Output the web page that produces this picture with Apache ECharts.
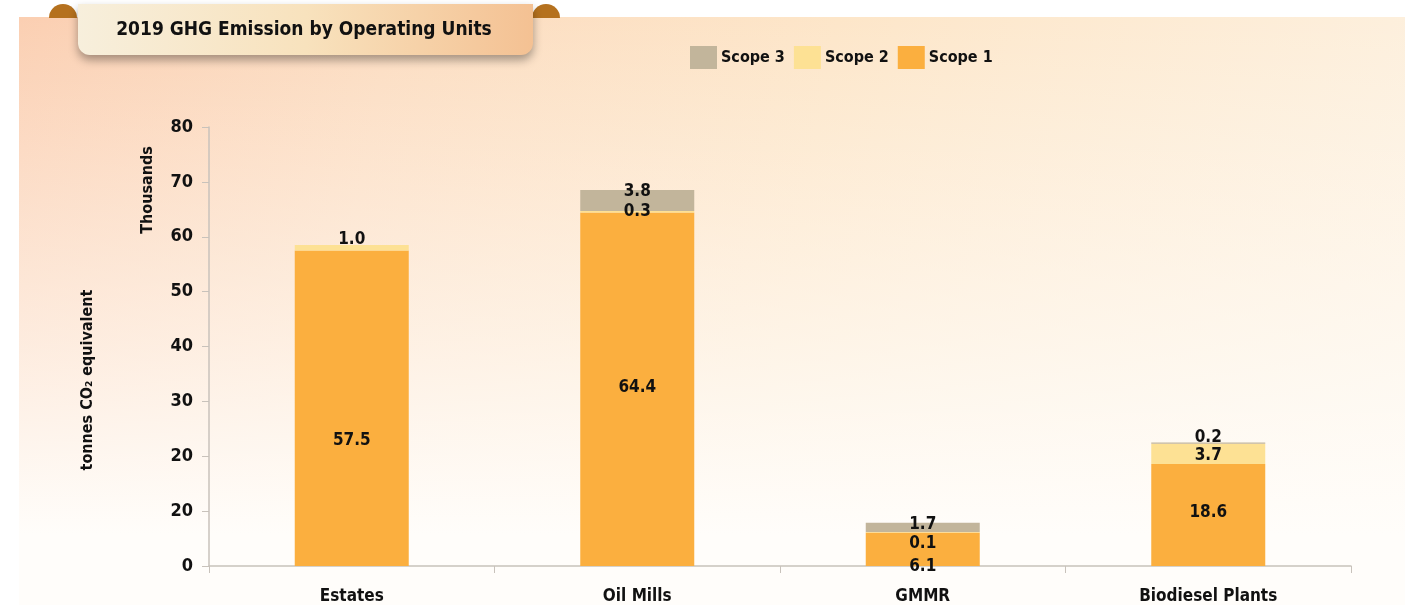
<!DOCTYPE html>
<html><head><meta charset="utf-8">
<script src="https://cdn.jsdelivr.net/npm/echarts@6/dist/echarts.min.js"></script>
<style>
html,body{margin:0;padding:0;width:1405px;height:605px;background:#fff;overflow:hidden}
#bg{position:absolute;left:19px;top:17px;right:0;bottom:0;
background:linear-gradient(to bottom, rgba(255,255,255,0) 0%, rgba(255,253,250,0.6) 55%, #fffdfa 88%),
linear-gradient(100deg, #fbcfb2 0%, #fcdcc0 25%, #fde6c9 55%, #fdf1e0 100%);}
#chart{position:absolute;left:0;top:0;width:1405px;height:605px}
</style></head>
<body><div id="bg"></div><div id="chart"></div>
<script>
const categories = ['Estates', 'Oil Mills', 'GMMR', 'Biodiesel Plants'];
const scope1 = [57.5, 64.4, 6.1, 18.6];
const scope2 = [1.0, 0.3, 0.1, 3.7];
const scope3 = [0, 3.8, 1.7, 0.2];
const yTickLabels = ['0', '20', '20', '30', '40', '50', '60', '70', '80'];

const FONT = "'DejaVu Sans Condensed', 'Liberation Sans Narrow', 'Open Sans', sans-serif";
const offs1 = [[0,32],[0,-2],[0,17],[0,-2]];
const offs2 = [[0,-8],[0,0],[0,11],[0,2]];
const offs3 = [[0,0],[0,-9],[0,-3],[0,-6]];

function mk(vals, offs){
  return vals.map((v,i)=>({value:v, label:{show: v>0, offset: offs[i]}}));
}
const lbl = {show:true, position:'inside', color:'#111', fontWeight:'bold', fontSize:17, fontFamily:FONT,
  formatter: p => p.value.toFixed(1)};

const chart = echarts.init(document.getElementById('chart'));
chart.setOption({
  backgroundColor:'transparent',
  animation:false,
  grid:{left:209, right:54, top:127, bottom:38},
  legend:{left:685, top:41, itemWidth:27, itemHeight:23, itemGap:9, icon:'rect',
    data:['Scope 3','Scope 2','Scope 1'],
    textStyle:{color:'#111', fontWeight:'bold', fontSize:16, fontFamily:FONT, padding:[0,0,0,-1]}},
  xAxis:{type:'category', data:categories,
    axisLine:{lineStyle:{color:'#c8c2bb', width:1.5}},
    axisTick:{show:true, length:7, lineStyle:{color:'#c8c2bb'}},
    axisLabel:{color:'#111', fontWeight:'bold', fontSize:17, fontFamily:FONT, margin:22}},
  yAxis:{type:'value', min:0, max:80, interval:10,
    axisLine:{show:true, lineStyle:{color:'#c8c2bb', width:1.5}},
    axisTick:{show:true, length:7, inside:false, lineStyle:{color:'#c8c2bb'}},
    splitLine:{show:false},
    axisLabel:{color:'#111', fontWeight:'bold', fontSize:18, fontFamily:FONT, margin:16,
      formatter: v => yTickLabels[Math.round(v/10)]}},
  series:[
    {name:'Scope 1', type:'bar', stack:'t', barWidth:114, data:mk(scope1,offs1),
      itemStyle:{color:'#FBAF3F'}, label:lbl},
    {name:'Scope 2', type:'bar', stack:'t', data:mk(scope2,offs2),
      itemStyle:{color:'#FDE194'}, label:lbl},
    {name:'Scope 3', type:'bar', stack:'t', data:mk(scope3,offs3),
      itemStyle:{color:'#C2B59B'}, label:lbl}
  ],
  graphic:[
    {type:'sector', shape:{cx:63, cy:18, r:14, startAngle:Math.PI, endAngle:2*Math.PI}, style:{fill:'#B5711E'}, z:1},
    {type:'sector', shape:{cx:546, cy:18, r:14, startAngle:Math.PI, endAngle:2*Math.PI}, style:{fill:'#B5711E'}, z:1},
    {type:'rect', shape:{x:78, y:4, width:455, height:51, r:[0,0,12,12]}, z:2,
      style:{fill:new echarts.graphic.LinearGradient(0,0,1,0,[
        {offset:0,color:'#f7efdc'},{offset:0.5,color:'#f8e2bd'},{offset:1,color:'#f4c193'}]),
        shadowBlur:10, shadowOffsetY:5, shadowColor:'rgba(0,0,0,0.35)'}},
    {type:'text', x:304, y:30, z:3, style:{text:'2019 GHG Emission by Operating Units', fill:'#111',
      font:'bold 19px '+FONT, textAlign:'center', textVerticalAlign:'middle'}},
    {type:'text', x:148, y:190, rotation:Math.PI/2, z:3, style:{text:'Thousands', fill:'#111',
      font:'bold 16px '+FONT, textAlign:'center', textVerticalAlign:'middle'}},
    {type:'text', x:88, y:380, rotation:Math.PI/2, z:3, style:{text:'tonnes CO\u2082 equivalent', fill:'#111',
      font:'bold 16px '+FONT, textAlign:'center', textVerticalAlign:'middle'}}
  ]
});
</script></body></html>
